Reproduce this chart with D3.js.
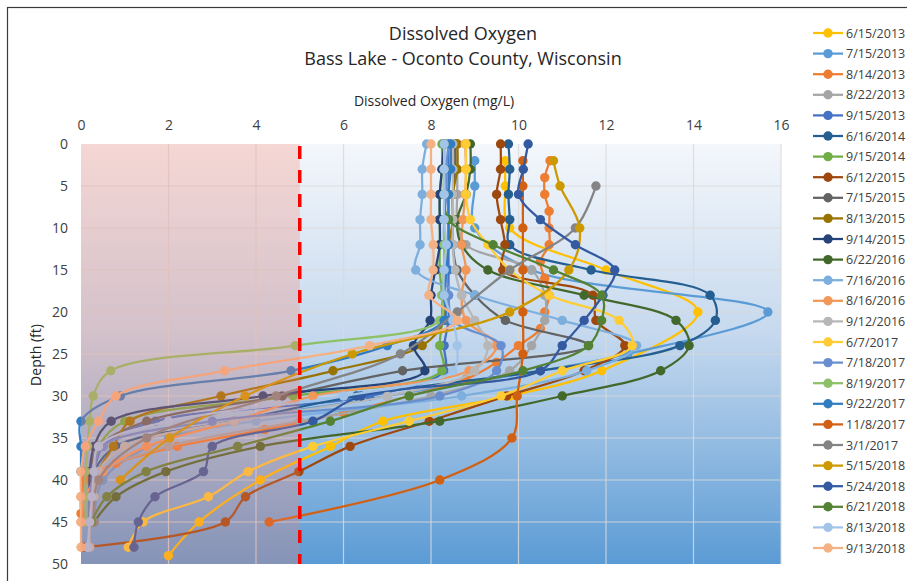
<!DOCTYPE html>
<html><head><meta charset="utf-8">
<script src="https://cdn.jsdelivr.net/npm/d3@7"></script>
<style>
body{margin:0;background:#fff;}
svg{display:block;}
text{font-family:"Open Sans","Noto Sans","Liberation Sans",sans-serif;}
</style>
</head><body>
<svg id="chart" width="907" height="581"></svg>
<script>
// ---------- DATA ----------
const seriesNames = ["6/15/2013","7/15/2013","8/14/2013","8/22/2013","9/15/2013","6/16/2014","9/15/2014","6/12/2015","7/15/2015","8/13/2015","9/14/2015","6/22/2016","7/16/2016","8/16/2016","9/12/2016","6/7/2017","7/18/2017","8/19/2017","9/22/2017","11/8/2017","3/1/2017","5/15/2018","5/24/2018","6/21/2018","8/13/2018","9/13/2018"];
const xTicks = [0,2,4,6,8,10,12,14,16];
const yTicks = [0,5,10,15,20,25,30,35,40,45,50];
const thresholdDO = 5;

const depths3 = [0,3,6,9,12,15,18,21,24,27,30,33,36,39,42,45,48];
const depths5 = [2,5,10,15,20,25,30,35,40,45];
const depths2 = [2,4,6,8,10,12,14,16,18,20,22,24,26,28,30,32,34,36,38,40,42,44];
const depthsJun2013 = [2,5,10,15,20,27,30,33,36,40,45,49];
const depthsMay2018 = [2,5,10,15,20,25,30,35,40];
const depthsMar2017 = [5,10,15,20,25,30,35,40,45];

const do_2013_06_15 = [9.7,9.7,9.8,12.0,14.1,11.9,9.8,6.9,5.7,4.1,2.7,2.0];
const do_2013_07_15 = [9.0,9.0,9.0,10.3,15.7,12.5,7.0,2.0,0.5,0.3];
const do_2013_08_14 = [10.72,10.6,10.6,10.7,10.7,10.7,10.5,10.6,10.7,10.6,10.5,10.0,9.5,8.8,7.5,6.0,4.2,2.2,0.8,0.1,0.0,0.0];
const do_2013_08_22 = [8.6,8.6,8.6,8.6,8.8,10.3,10.6,10.6,10.3,9.8,8.0,5.0,2.0,0.5,0.2];
const do_2013_09_15 = [8.4,8.4,8.4,8.4,8.4,8.4,8.4,8.4,8.3,8.3,6.6,1.7,0.5,0.3,0.2,0.2];
const do_2014_06_16 = [9.77,9.8,9.77,9.8,9.8,11.66,14.38,14.5,13.69,10.5,6.3,3.5,0.8,0.3,0.2,0.2];
const do_2014_09_15 = [8.25,8.25,8.2,8.2,8.2,8.2,8.25,8.25,8.2,8.25,4.85,1.0,0.4,0.3,0.2];
const do_2015_06_12 = [9.59,9.59,9.5,9.59,9.69,9.64,11.7,11.77,12.43,11.5,9.73,7.96,6.15,4.98,3.76,3.3,0.05];
const do_2015_07_15 = [8.55,8.55,8.5,8.5,8.5,8.6,9.0,9.7,11.6,7.35,4.6,1.5,0.4,0.2];
const do_2015_08_13 = [8.6,8.6,8.5,8.5,8.4,8.3,8.3,8.3,7.8,5.76,3.2,1.12,0.74,0.4,0.3];
const do_2015_09_14 = [8.3,8.25,8.2,8.2,8.2,8.1,8.0,7.98,7.6,7.86,4.16,0.69,0.3,0.2,0.2];
const do_2016_06_22 = [8.9,8.9,8.8,8.6,8.7,9.3,11.5,13.6,13.9,13.25,11.0,8.2,4.1,1.94,0.8,0.3];
const do_2016_07_16 = [7.9,7.8,7.8,7.75,7.75,7.65,9.0,11.0,12.7,11.56,8.7,4.0,1.0,0.4,0.3,0.3];
const do_2016_08_16 = [8.78,8.8,8.78,8.73,8.7,8.8,8.7,8.8,9.5,8.87,5.3,3.5,1.5,0.5,0.1,0.0];
const do_2016_09_12 = [8.5,8.5,8.5,8.5,8.5,8.55,8.7,9.0,9.3,9.0,7.0,3.5,1.0,0.4,0.3,0.2,0.2];
const do_2017_06_07 = [8.8,8.8,8.8,8.9,9.3,9.8,10.7,12.3,12.6,11.0,9.6,7.5,5.3,3.82,2.91,1.42,1.08];
const do_2017_07_18 = [8.4,8.35,8.35,8.3,8.3,8.35,8.4,8.5,9.6,9.5,8.2,3.0,0.5,0.3,0.2,0.2];
const do_2017_08_19 = [8.3,8.3,8.3,8.3,8.3,8.3,8.25,8.2,4.9,0.68,0.28,0.2,0.15,0.1,0.1,0.1];
const do_2017_09_22 = [8.45,8.45,8.4,8.4,8.4,8.35,8.3,8.3,7.0,4.8,0.9,0.0,0.0,0.0];
const do_2017_11_08 = [10.1,10.1,10.1,10.1,10.1,10.1,9.97,9.85,8.2,4.3];
const do_2017_03_01 = [11.77,11.3,9.8,8.6,7.3,4.46,1.5,0.4,0.3];
const do_2018_05_15 = [10.8,10.95,11.4,11.15,9.8,6.2,3.75,2.03,0.9];
const do_2018_05_24 = [10.22,10.11,10.0,10.5,11.3,12.2,11.93,11.5,11.0,10.5,6.4,5.3,3.0,2.8,1.69,1.31,1.21];
const do_2018_06_21 = [8.3,8.3,8.3,8.4,9.42,10.8,11.9,11.9,11.6,10.1,7.5,5.7,3.58,1.49,0.59,0.24];
const do_2018_08_13 = [8.3,8.3,8.3,8.3,8.35,8.3,8.3,8.5,8.6,8.5,6.0,2.0,0.4,0.3,0.25,0.2,0.15];
const do_2018_09_13 = [8.0,8.0,8.0,8.0,8.05,8.05,7.95,8.6,6.6,3.28,0.8,0.4,0.1,0.0,0.0,0.0,0.0];

const seriesValues = [do_2013_06_15,do_2013_07_15,do_2013_08_14,do_2013_08_22,do_2013_09_15,do_2014_06_16,do_2014_09_15,do_2015_06_12,do_2015_07_15,do_2015_08_13,do_2015_09_14,do_2016_06_22,do_2016_07_16,do_2016_08_16,do_2016_09_12,do_2017_06_07,do_2017_07_18,do_2017_08_19,do_2017_09_22,do_2017_11_08,do_2017_03_01,do_2018_05_15,do_2018_05_24,do_2018_06_21,do_2018_08_13,do_2018_09_13];
const seriesDepths = [depthsJun2013,depths5,depths2,depths3,depths3,depths3,depths3,depths3,depths3,depths3,depths3,depths3,depths3,depths3,depths3,depths3,depths3,depths3,depths3,depths5,depthsMar2017,depthsMay2018,depths3,depths3,depths3,depths3];

// ---------- STYLE ----------
const palette = ["#FFC000","#5B9BD5","#ED7D31","#A5A5A5","#4472C4","#255E91","#70AD47","#9E480E","#636363","#997300","#264478","#43682B","#7CAFDD","#F1975A","#B7B7B7","#FFCD33","#698ED0","#8CC168","#327DC2","#D26012","#848484","#CC9A00","#335AA1","#548235","#A3C4E9","#F4B183"];

const svg = d3.select("#chart");
const W = 907, H = 581;
const x = d3.scaleLinear().domain([0,16]).range([81,781]);
const y = d3.scaleLinear().domain([0,50]).range([144,564]);

// outer chart border
svg.append("rect").attr("x",7.5).attr("y",7.5).attr("width",W+10).attr("height",H+10)
  .attr("fill","#fff").attr("stroke","#3a3a3a").attr("stroke-width",1.2);

const defs = svg.append("defs");
const bg = defs.append("linearGradient").attr("id","bg").attr("x1",0).attr("y1",0).attr("x2",0).attr("y2",1);
bg.append("stop").attr("offset","0%").attr("stop-color","#F4F7FB");
bg.append("stop").attr("offset","45%").attr("stop-color","#C6D9EE");
bg.append("stop").attr("offset","100%").attr("stop-color","#5B9BD5");

svg.append("rect").attr("x",x(0)).attr("y",y(0)).attr("width",x(16)-x(0)).attr("height",y(50)-y(0))
  .attr("fill","url(#bg)");

// grid
const grid = svg.append("g");
grid.selectAll("line.v").data(xTicks.slice(1)).join("line")
  .attr("x1",d=>x(d)).attr("x2",d=>x(d)).attr("y1",y(0)).attr("y2",y(50))
  .attr("stroke","#D9D9D9").attr("stroke-opacity",0.85).attr("stroke-width",1.2);
grid.selectAll("line.h").data(yTicks.slice(1,-1)).join("line")
  .attr("x1",x(0)).attr("x2",x(16)).attr("y1",d=>y(d)).attr("y2",d=>y(d))
  .attr("stroke","#D9D9D9").attr("stroke-opacity",0.85).attr("stroke-width",1.2);

// series
const line = d3.line().x(d=>x(d[1])).y(d=>y(d[0])).curve(d3.curveCatmullRom.alpha(0.5));
const gS = svg.append("g");
seriesValues.forEach((vals,i)=>{
  const pts = vals.map((v,j)=>[seriesDepths[i][j], v]);
  const g = gS.append("g");
  g.append("path").attr("d",line(pts)).attr("fill","none").attr("stroke",palette[i]).attr("stroke-width",2.25);
  g.selectAll("circle").data(pts).join("circle")
    .attr("cx",d=>x(d[1])).attr("cy",d=>y(d[0])).attr("r",4.7).attr("fill",palette[i]);
});

// low-oxygen overlay
svg.append("rect").attr("x",x(0)).attr("y",y(0)).attr("width",x(thresholdDO)-x(0)).attr("height",y(50)-y(0))
  .attr("fill","#F8806A").attr("fill-opacity",0.27);

// threshold line
svg.append("line").attr("x1",x(thresholdDO)).attr("x2",x(thresholdDO)).attr("y1",y(0)+2).attr("y2",y(50))
  .attr("stroke","#FF0000").attr("stroke-width",3.5).attr("stroke-dasharray","13,11");

// axes
const ax = svg.append("g").attr("transform",`translate(0,${y(0)})`)
  .call(d3.axisTop(x).tickValues(xTicks).tickSize(0).tickPadding(14));
ax.select(".domain").remove();
ax.selectAll("text").attr("font-size",14).attr("fill","#404040").style("font-family",'"Open Sans",sans-serif');
const ay = svg.append("g").attr("transform",`translate(${x(0)},0)`)
  .call(d3.axisLeft(y).tickValues(yTicks).tickSize(0).tickPadding(13));
ay.select(".domain").remove();
ay.selectAll("text").attr("font-size",14).attr("fill","#404040").style("font-family",'"Open Sans",sans-serif');

// titles
svg.append("text").attr("x",463).attr("y",40).attr("text-anchor","middle").attr("font-size",18).attr("fill","#262626").text("Dissolved Oxygen");
svg.append("text").attr("x",463).attr("y",65).attr("text-anchor","middle").attr("font-size",18).attr("fill","#262626").text("Bass Lake - Oconto County, Wisconsin");
svg.append("text").attr("x",434).attr("y",106).attr("text-anchor","middle").attr("font-size",14).attr("fill","#262626").text("Dissolved Oxygen (mg/L)");
svg.append("text").attr("transform","translate(41,355) rotate(-90)").attr("text-anchor","middle").attr("font-size",14).attr("fill","#262626").text("Depth (ft)");

// legend
const lg = svg.append("g");
seriesNames.forEach((n,i)=>{
  const yy = 33 + i*20.6;
  lg.append("line").attr("x1",813).attr("x2",843).attr("y1",yy).attr("y2",yy).attr("stroke",palette[i]).attr("stroke-width",2.25);
  lg.append("circle").attr("cx",828).attr("cy",yy).attr("r",4.7).attr("fill",palette[i]);
  lg.append("text").attr("x",846).attr("y",yy+4.5).attr("font-size",12.5).attr("fill","#404040").text(n);
});
</script>
</body></html>
